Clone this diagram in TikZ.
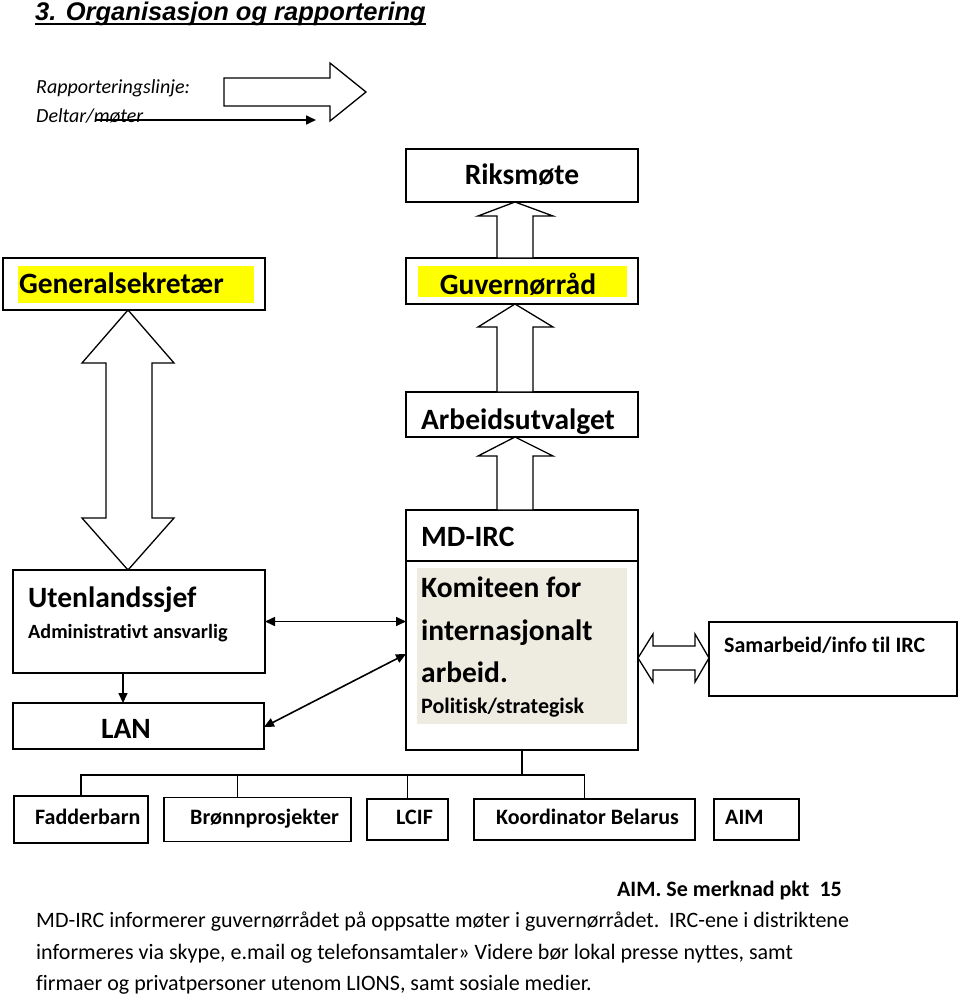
\documentclass[tikz,border=0pt]{standalone}
\usepackage{fontspec}
\setmainfont[Ligatures={TeX,NoCommon}]{Carlito}
\newfontfamily\titlefont{Liberation Sans}
\usepackage{xcolor}
\usepackage{tikz}
\usetikzlibrary{positioning}
\usetikzlibrary{calc}
\usetikzlibrary{arrows.meta}

\definecolor{hlyellow}{RGB}{255,255,0}
\definecolor{komgrey}{RGB}{238,236,225}

\tikzstyle{box}=[draw, line width=1.6pt, inner sep=0pt, outer sep=0pt]
\tikzstyle{hlbox}=[fill=hlyellow, inner sep=0pt, outer sep=0pt]
\tikzstyle{bigtext}=[inner sep=0pt, font=\fontsize{29.5}{34}\selectfont\bfseries]
\tikzstyle{smalltext}=[inner sep=0pt, font=\fontsize{22}{26}\selectfont\bfseries]
\tikzstyle{rowtext}=[inner sep=0pt, text height=15pt, text depth=5pt, font=\fontsize{22}{26}\selectfont\bfseries]
\tikzstyle{notetext}=[inner sep=0pt, anchor=base west, font=\fontsize{22}{26}\selectfont]
\tikzstyle{legendtext}=[inner sep=0pt, anchor=base west, font=\fontsize{20}{24}\selectfont\itshape]
\tikzstyle{fatarrow}=[draw, line width=1.3pt, fill=white, line join=miter]
\tikzstyle{thinarrow}=[line width=1.6pt, -{Triangle[length=10pt,width=9pt]}]
\tikzstyle{twoway}=[line width=1.6pt, {Triangle[length=10pt,width=9pt]}-{Triangle[length=10pt,width=9pt]}]
\tikzstyle{tree}=[line width=1.4pt]

\begin{document}
\begin{tikzpicture}[x=1pt, y=-1pt]
\useasboundingbox (0,0) rectangle (960,995);

% title and legend
\node (title) 
	[anchor=base west, inner sep=0pt, font=\titlefont\fontsize{25.5}{30}\selectfont\bfseries\itshape] 
	at (35,21) {3. Organisasjon og rapportering};
\draw [line width=2.2pt] ([yshift=-3pt]title.base west) -- ([yshift=-3pt]title.base east);

\node (leg1) [legendtext] at (36,94) {Rapporteringslinje:};
\node (leg2) [legendtext] at (36,123) {Deltar/møter};
\coordinate (legA) at (224,92);
\coordinate (legB) at (366,92);
\coordinate (legC) at (95,120);
\coordinate (legD) at (316,120);
\draw [fatarrow] ($(legA)+(0,-14)$) -- ($(legB)+(-36,-14)$) -- ($(legB)+(-36,-29)$) -- (legB) 
	-- ($(legB)+(-36,29)$) -- ($(legB)+(-36,14)$) -- ($(legA)+(0,14)$) -- cycle;
\draw [thinarrow] (legC) -- (legD);

% right column
\node (riks) 
	[box, minimum width=232pt, minimum height=53pt, text height=20pt, text depth=1pt, bigtext] 
	at (522,175.5) {Riksmøte};
\node (guv) 
	[box, minimum width=232pt, minimum height=46pt] 
	at (522,281) {};
\node (guvhl) 
	[hlbox, minimum width=209pt, minimum height=31pt] 
	at (522.5,281.5) {};
\node (guvt) [bigtext, anchor=base] at (518,294) {Guvernørråd};
\node (arb) 
	[box, minimum width=232pt, minimum height=45pt] 
	at (522,414.5) {};
\node (arbt) [bigtext, anchor=base] at (518,429) {Arbeidsutvalget};
\node (md) 
	[box, minimum width=232pt, minimum height=240pt] 
	at (522,630) {};
\draw [line width=1.6pt] ([yshift=-51pt]md.north west) -- ([yshift=-51pt]md.north east);
\node (kom) 
	[fill=komgrey, inner sep=0pt, minimum width=210pt, minimum height=156pt] 
	at (522,646) {};
\node (mdt) [bigtext, anchor=base west] at (421,546) {MD-IRC};
\node (kom1) [bigtext, anchor=base west] at (421,597) {Komiteen for};
\node (kom2) [bigtext, anchor=base west] at (421,640) {internasjonalt};
\node (kom3) [bigtext, anchor=base west] at (421,682) {arbeid.};
\node (kom4) [smalltext, anchor=base west] at (421,713) {Politisk/strategisk};

\node (sam) 
	[box, minimum width=248pt, minimum height=74pt] 
	at (833,659) {};
\node (samt) [smalltext, anchor=base west] at (724,652) {Samarbeid/info til IRC};

% left column
\node (gen) 
	[box, minimum width=262pt, minimum height=52pt] 
	at (134,284) {};
\node (genhl) 
	[hlbox, minimum width=236pt, minimum height=37pt, text width=234pt, align=left, 
	 text height=18pt, text depth=1pt, bigtext] 
	at (136,284.5) {Generalsekretær};
\node (ute) 
	[box, minimum width=252pt, minimum height=103pt] 
	at (139,621.5) {};
\node (utet) [bigtext, anchor=base west] at (28,607) {Utenlandssjef};
\node (utesub) [smalltext, anchor=base west, font=\fontsize{20.2}{24}\selectfont\bfseries] 
	at (28,638) {Administrativt ansvarlig};
\node (lan) 
	[box, minimum width=251pt, minimum height=46pt] 
	at (138.5,726) {};
\node (lant) [bigtext, anchor=base] at (126,738) {LAN};

% block arrows
\draw [fatarrow] ($(guv.north)+(-25,0)$) -- ($(riks.south)+(-25,14)$) -- ($(riks.south)+(-44,14)$) 
	-- ($(riks.south)+(-7,0)$) -- ($(riks.south)+(31,14)$) -- ($(riks.south)+(11,14)$) 
	-- ($(guv.north)+(11,0)$) -- cycle;
\draw [fatarrow] ($(arb.north)+(-25,0)$) -- ($(guv.south)+(-25,23)$) -- ($(guv.south)+(-44,23)$) 
	-- ($(guv.south)+(-7,0)$) -- ($(guv.south)+(31,23)$) -- ($(guv.south)+(11,23)$) 
	-- ($(arb.north)+(11,0)$) -- cycle;
\draw [fatarrow] ($(md.north)+(-25,0)$) -- ($(arb.south)+(-25,19)$) -- ($(arb.south)+(-44,19)$) 
	-- ($(arb.south)+(-7,0)$) -- ($(arb.south)+(31,19)$) -- ($(arb.south)+(11,19)$) 
	-- ($(md.north)+(11,0)$) -- cycle;
\draw [fatarrow] ($(gen.south)+(-6,0)$) -- ($(gen.south)+(-52,53)$) -- ($(gen.south)+(-28,53)$) 
	-- ($(ute.north)+(-33,-52)$) -- ($(ute.north)+(-57,-52)$) -- ($(ute.north)+(-11,0)$) 
	-- ($(ute.north)+(35,-52)$) -- ($(ute.north)+(13,-52)$) -- ($(gen.south)+(18,53)$) 
	-- ($(gen.south)+(40,53)$) -- cycle;
\draw [fatarrow] ($(md.east)+(0,28)$) -- ($(md.east)+(15,4)$) -- ($(md.east)+(15,16)$) 
	-- ($(sam.west)+(-14,-13)$) -- ($(sam.west)+(-14,-25)$) -- ($(sam.west)+(0,-1)$) 
	-- ($(sam.west)+(-14,23)$) -- ($(sam.west)+(-14,11)$) -- ($(md.east)+(15,40)$) 
	-- ($(md.east)+(15,52)$) -- cycle;

% thin arrows
\draw [thinarrow] ([xshift=-16pt]ute.south) -- ([xshift=-16pt]ute.south |- lan.north);
\draw [twoway] (ute.east) -- (ute.east -| md.west);
\draw [twoway] ([yshift=-1pt]lan.east) -- ([yshift=-24pt]md.west);

% bottom row
\node (fad) [box, minimum width=134pt, minimum height=47pt] at (81,819.5) {};
\node (bro) [box, minimum width=187pt, minimum height=44pt, right=16pt of fad] {};
\node (lcif) [box, minimum width=81pt, minimum height=41pt, right=16pt of bro] {};
\node (koo) [box, minimum width=221pt, minimum height=41pt, right=26pt of lcif] {};
\node (aim) [box, minimum width=85pt, minimum height=41pt, right=19pt of koo] {};
\node (fadt) [rowtext, right=21pt of fad.west] {Fadderbarn};
\node (brot) [rowtext, right=26pt of bro.west] {Brønnprosjekter};
\node (lcift) [rowtext, right=29pt of lcif.west] {LCIF};
\node (koot) [rowtext, right=22pt of koo.west] {Koordinator Belarus};
\node (aimt) [rowtext, right=11pt of aim.west] {AIM};

\coordinate (bus) at (522,775);
\draw [tree] (md.south) -- (bus);
\draw [tree] (fad.north) |- (bus) -| (koo.north);
\draw [tree] ([xshift=-20pt]bro.north) -- ([xshift=-20pt]bro.north |- bus);
\draw [tree] (lcif.north) -- (lcif.north |- bus);

% notes
\node (aimnote) [inner sep=0pt, anchor=base east, font=\fontsize{22}{26}\selectfont\bfseries] 
	at (842,896) {AIM. Se merknad pkt\ \ 15};
\node (note1) [notetext] at (36,927) {MD-IRC informerer guvernørrådet på oppsatte møter i guvernørrådet.\ \ IRC-ene i distriktene};
\node (note2) [notetext] at (36,959) {informeres via skype, e.mail og telefonsamtaler» Videre bør lokal presse nyttes, samt};
\node (note3) [notetext] at (36,990) {firmaer og privatpersoner utenom LIONS, samt sosiale medier.};
\end{tikzpicture}
\end{document}
